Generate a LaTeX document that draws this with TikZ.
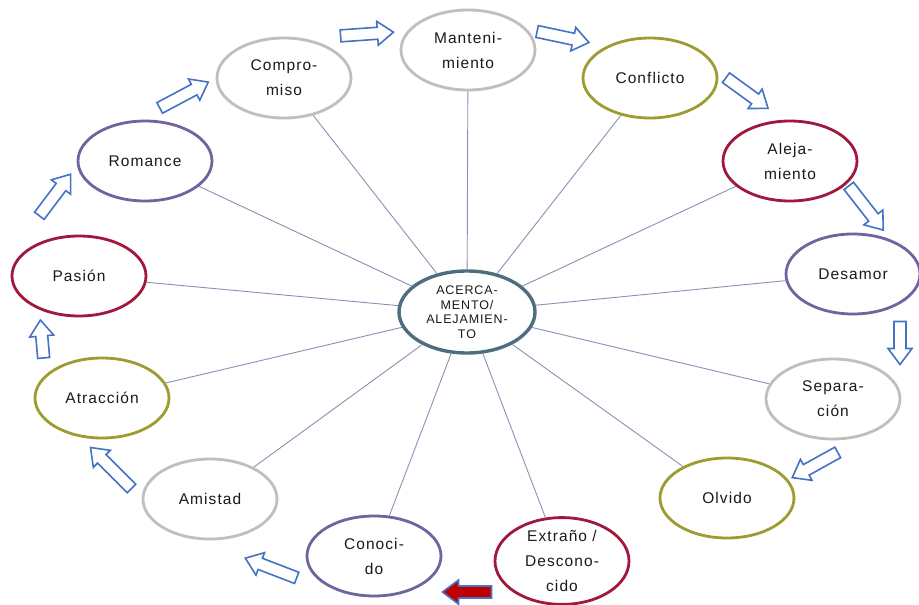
\documentclass[tikz,border=0pt]{standalone}
\usepackage{fontspec}
\setmainfont{Liberation Sans}[LetterSpace=7]
\usetikzlibrary{shapes.geometric}
\definecolor{cgray}{HTML}{BFBFBF}
\definecolor{colive}{HTML}{9E9C30}
\definecolor{ccrim}{HTML}{A0183C}
\definecolor{cpurp}{HTML}{6E659E}
\definecolor{cctr}{HTML}{4C6E7D}
\definecolor{cspoke}{HTML}{8E8EB5}
\definecolor{carrow}{HTML}{4472C4}
\definecolor{cred}{HTML}{C00000}
\definecolor{ctext}{HTML}{1A1A1A}
\newcommand\blockarr[5]{%
  \begin{scope}[shift={(#1,#2)},rotate=#3]
    \draw[#5] (-#4/2,-6) -- (#4/2-16,-6) -- (#4/2-16,-12) -- (#4/2,0)
      -- (#4/2-16,12) -- (#4/2-16,6) -- (-#4/2,6) -- cycle;
  \end{scope}}
\begin{document}
\begin{tikzpicture}[x=1pt,y=-1pt,
  bub/.style={ellipse, line width=2.8pt, fill=white, minimum width=134pt,
    minimum height=80pt, inner sep=0pt, align=center, text=ctext,
    font=\fontsize{15.5}{25}\selectfont},
  gbub/.style={bub, draw=cgray},
  obub/.style={bub, draw=colive},
  rbub/.style={bub, draw=ccrim},
  pbub/.style={bub, draw=cpurp},
  cbub/.style={ellipse, line width=3.4pt, draw=cctr, fill=white,
    minimum width=136pt, minimum height=82pt, inner sep=0pt, align=center,
    text=ctext, font=\fontsize{12.5}{14.5}\selectfont},
  spoke/.style={draw=cspoke, line width=0.9pt},
  harrow/.style={draw=carrow, line width=1.6pt, fill=white},
  rarrow/.style={draw=carrow, line width=1.6pt, fill=cred}]
\useasboundingbox (0,0) rectangle (919,605);
\fill[white] (0,0) rectangle (919,605);

\node[gbub] (mant) at (468,50) {Manteni-\\miento};
\node[obub] (conf) at (650,78) {Conflicto};
\node[rbub] (alej) at (790,161) {Aleja-\\miento};
\node[pbub] (desa) at (853,274) {Desamor};
\node[gbub] (sepa) at (833,399) {Separa-\\ción};
\node[obub] (olvi) at (727,498) {Olvido};
\node[rbub] (extr) at (562,561) {Extraño /\\Descono-\\cido};
\node[pbub] (cono) at (374,556) {Conoci-\\do};
\node[gbub] (amis) at (210,499) {Amistad};
\node[obub] (atra) at (102,398) {Atracción};
\node[rbub] (pasi) at (79,276) {Pasión};
\node[pbub] (roma) at (145,161) {Romance};
\node[gbub] (comp) at (284,78) {Compro-\\miso};

\node[cbub] (ctr) at (467,312) {ACERCA-\\MENTO/\\ALEJAMIEN-\\TO};

\foreach \n in {mant,conf,alej,desa,sepa,olvi,extr,cono,amis,atra,pasi,roma,comp}
  \draw[spoke] (ctr) -- (\n);

\blockarr{367}{34}{4}{53}{harrow}
\blockarr{563}{37}{-12}{53}{harrow}
\blockarr{747}{93}{-36}{52}{harrow}
\blockarr{866}{208}{-52}{56}{harrow}
\blockarr{900}{343}{-90}{43}{harrow}
\blockarr{815}{465}{-151}{52}{harrow}
\blockarr{467}{592}{180}{49}{rarrow}
\blockarr{271}{568}{159}{55}{harrow}
\blockarr{111}{468}{135}{58}{harrow}
\blockarr{42}{339}{95}{38}{harrow}
\blockarr{55}{195}{53}{52}{harrow}
\blockarr{184}{95}{28}{55}{harrow}
\end{tikzpicture}
\end{document}
